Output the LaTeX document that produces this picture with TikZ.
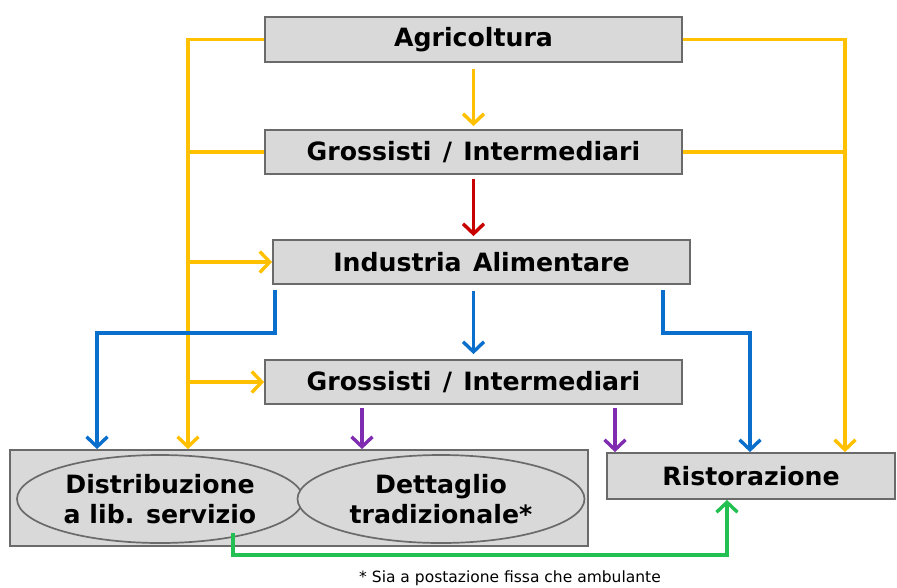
\documentclass[tikz,border=0pt]{standalone}
\usepackage{fontspec}
\setmainfont{DejaVu Sans}
\usetikzlibrary{arrows.meta,shapes.geometric}
\definecolor{cYel}{HTML}{FFC000}
\definecolor{cRed}{HTML}{C80000}
\definecolor{cBlu}{HTML}{0A6FCC}
\definecolor{cPur}{HTML}{7F2CB0}
\definecolor{cGrn}{HTML}{22C050}
\definecolor{boxfill}{HTML}{D9D9D9}
\definecolor{boxline}{HTML}{6A6A6A}
\tikzset{
  box/.style={draw=boxline, line width=1.8pt, fill=boxfill, inner sep=0pt,
    font=\fontsize{25.2}{28}\selectfont\bfseries},
  oval/.style={ellipse, draw=boxline, line width=1.7pt, fill=boxfill, inner sep=0pt,
    align=center, font=\fontsize{25.2}{30}\selectfont\bfseries},
  conn/.style={line width=3.8pt},
  arr/.style={conn, -{Straight Barb[length=10pt,width=21pt,line width=3.4pt]}},
}
\begin{document}
\begin{tikzpicture}[x=1pt,y=-1pt]
\useasboundingbox (0,0) rectangle (897,587);
% boxes
\node[box, minimum width=417pt, minimum height=45pt] (agri) at (473.5,39.5) {Agricoltura};
\node[box, minimum width=417pt, minimum height=44pt] (gross1) at (473.5,152) {Grossisti\hspace{0.45em}/\hspace{0.45em}Intermediari};
\node[box, minimum width=417pt, minimum height=44pt] (ind) at (481.5,262) {Industria\hspace{0.45em}Alimentare};
\node[box, minimum width=417pt, minimum height=44pt] (gross2) at (473.5,382) {Grossisti\hspace{0.45em}/\hspace{0.45em}Intermediari};
\node[box, minimum width=578pt, minimum height=96pt] (big) at (299,498) {};
\node[oval, minimum width=286pt, minimum height=88pt] (dist) at (160,499) {Distribuzione\\a lib. servizio};
\node[oval, minimum width=287pt, minimum height=88pt] (dett) at (441,499) {Dettaglio\\tradizionale*};
\node[box, minimum width=288pt, minimum height=46pt] (rist) at (751,476) {Ristorazione};
\node[font=\fontsize{15.5}{17}\selectfont] (note) at (510,578) {* Sia a postazione fissa che ambulante};
% coordinates
\coordinate (yL) at (188,39.5);
\coordinate (yR) at (845,39.5);
\coordinate (bL) at (97,333);
\coordinate (bR) at (750,333);
\coordinate (p1) at (362,0);
\coordinate (p2) at (615,0);
\coordinate (gS) at (233,533);
\coordinate (gB) at (727,555);
% yellow
\draw[arr, cYel] (agri.west) -- (yL) -- (yL |- big.north);
\draw[conn, cYel] (gross1.west) -- (gross1.west -| yL);
\draw[arr, cYel] (ind.west -| yL) -- (ind.west);
\draw[arr, cYel] (gross2.west -| yL) -- (gross2.west);
\draw[arr, cYel] (agri.east) -- (yR) -- (yR |- rist.north);
\draw[conn, cYel] (gross1.east) -- (gross1.east -| yR);
\draw[arr, cYel, shorten <=6pt, shorten >=3pt] (agri.south) -- (gross1.north);
% red
\draw[arr, cRed, shorten <=4pt, shorten >=3pt] (gross1.south) -- (ind.north -| gross1.south);
% blue
\draw[arr, cBlu, shorten <=6pt, shorten >=5pt] (ind.south -| gross2.north) -- (gross2.north);
\draw[arr, cBlu] ([xshift=3pt,yshift=-5pt]ind.south west) |- (bL) -- (bL |- big.north);
\draw[arr, cBlu] ([xshift=-28pt,yshift=-5pt]ind.south east) |- (bR) -- (bR |- rist.north);
% purple
\draw[arr, cPur] ([yshift=-3pt]gross2.south -| p1) -- (p1 |- big.north);
\draw[arr, cPur] ([yshift=-3pt]gross2.south -| p2) -- (p2 |- rist.north);
% green
\draw[arr, cGrn] (gS) |- (gB) -- (gB |- rist.south);
\end{tikzpicture}
\end{document}
